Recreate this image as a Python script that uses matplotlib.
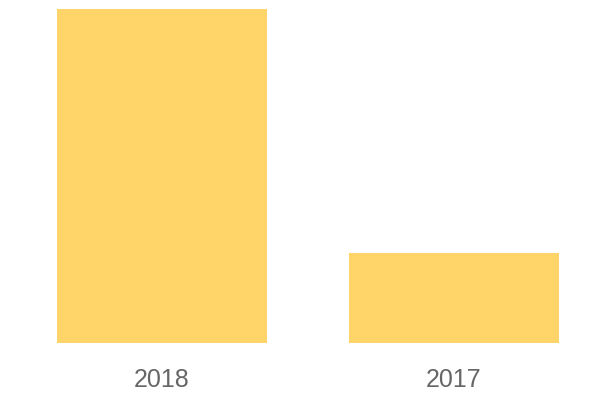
import matplotlib.pyplot as plt

years = ["2018", "2017"]
values = [100, 27]

fig = plt.figure(figsize=(6, 4), dpi=100)
# axes placed in pixel terms: x 16..600, y 57..391 from bottom
ax = fig.add_axes([16 / 600, 57 / 400, 584 / 600, 334 / 400])
ax.bar(range(len(years)), values, width=0.72, color="#FFD56A")
ax.set_xlim(-0.5, 1.5)
ax.set_ylim(0, 100)
ax.set_xticks(range(len(years)))
ax.set_xticklabels(years, fontsize=18, color="#666666", family="Liberation Sans")
ax.tick_params(axis="x", length=0, pad=18)
ax.set_yticks([])
for s in ax.spines.values():
    s.set_visible(False)

fig.savefig("out.png", dpi=100)
